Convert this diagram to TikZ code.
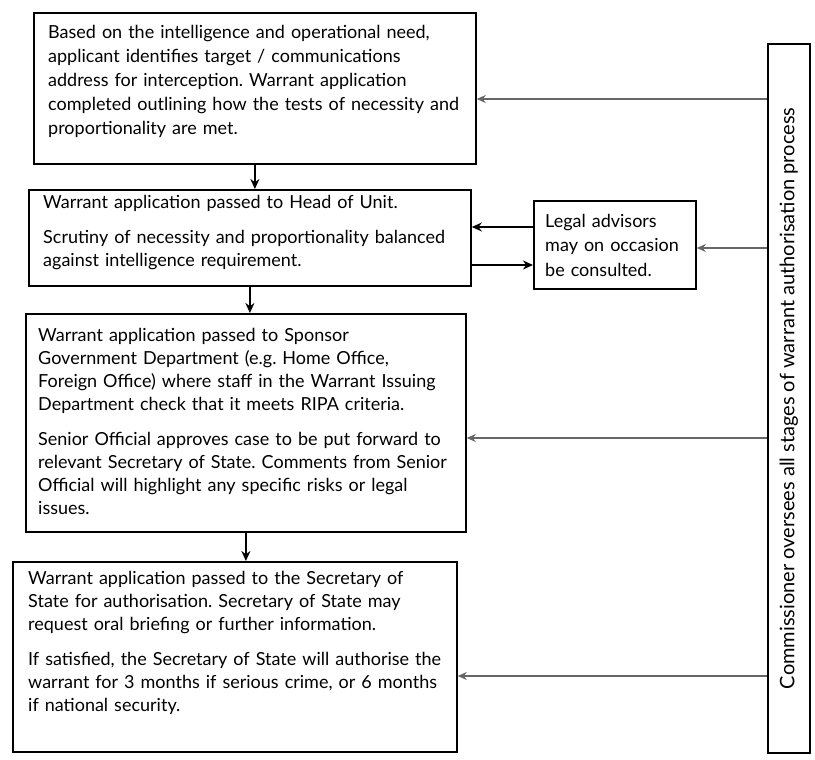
\documentclass[tikz,border=0pt]{standalone}
\usepackage{fontspec}
\setmainfont{Lato}
\usetikzlibrary{arrows.meta}
\frenchspacing
\begin{document}
\begin{tikzpicture}[x=1pt,y=-1pt,
  stage/.style={draw, line width=1.8pt, anchor=north west, inner sep=0pt},
  txt/.style={anchor=north west, inner sep=0pt, align=left, font=\fontsize{18}{23}\selectfont},
  flow/.style={-{Stealth[length=10pt,width=9pt]}, line width=1.8pt},
  watch/.style={-{Stealth[length=9pt,width=8pt]}, line width=1.8pt, draw=black!60}]
\useasboundingbox[fill=white] (0,0) rectangle (815,760);
% boxes
\node[stage, minimum width=442, minimum height=151] (b1) at (33,12) {};
\node[stage, minimum width=442, minimum height=96] (b2) at (28,189) {};
\node[stage, minimum width=440, minimum height=218] (b3) at (25,313) {};
\node[stage, minimum width=444, minimum height=190] (b4) at (12,561) {};
\node[stage, minimum width=162, minimum height=88] (legal) at (533,200) {};
\node[stage, minimum width=42, minimum height=709] (comm) at (767,43) {};
% texts
\node[txt, text width=425, font=\fontsize{18}{24}\selectfont] (t1) at ([xshift=15pt,yshift=-13pt]b1.north west)
 {Based on the intelligence and operational need,\\
  applicant identifies target / communications\\
  address for interception. Warrant application\\
  completed outlining how the tests of necessity and\\
  proportionality are met.};
\node[txt, text width=425] (t2) at ([xshift=15pt,yshift=-6pt]b2.north west)
 {Warrant application passed to Head of Unit.\\[12pt]
  Scrutiny of necessity and proportionality balanced\\
  against intelligence requirement.};
\node[txt, text width=425] (t3) at ([xshift=13pt,yshift=-15pt]b3.north west)
 {Warrant application passed to Sponsor\\
  Government Department (e.g. Home Office,\\
  Foreign Office) where staff in the Warrant Issuing\\
  Department check that it meets RIPA criteria.\\[12pt]
  Senior Official approves case to be put forward to\\
  relevant Secretary of State. Comments from Senior\\
  Official will highlight any specific risks or legal\\
  issues.};
\node[txt, text width=430] (t4) at ([xshift=16pt,yshift=-10pt]b4.north west)
 {Warrant application passed to the Secretary of\\
  State for authorisation. Secretary of State may\\
  request oral briefing or further information.\\[12pt]
  If satisfied, the Secretary of State will authorise the\\
  warrant for 3 months if serious crime, or 6 months\\
  if national security.};
\node[txt, text width=150, font=\fontsize{18}{24.5}\selectfont] (tl) at ([xshift=12pt,yshift=-14pt]legal.north west)
 {Legal advisors\\ may on occasion\\ be consulted.};
\node[rotate=90, inner sep=0pt, font=\fontsize{20}{22}\selectfont] (tc) at (comm.center)
 {Commissioner oversees all stages of warrant authorisation process};
% flow arrows
\draw[flow] (b1.south) -- (b1.south |- b2.north);
\draw[flow] (b2.south) -- (b2.south |- b3.north);
\draw[flow] (b3.south) -- (b3.south |- b4.north);
\coordinate (l1) at (legal.west |- 0,227);
\coordinate (l2) at (legal.west |- 0,265);
\draw[flow] (l1) -- (l1 -| b2.east);
\draw[flow] (l2 -| b2.east) -- (l2);
% commissioner arrows
\draw[watch] (comm.west |- 0,99) -- (b1.east |- 0,99);
\draw[watch] (comm.west |- 0,248) -- (legal.east |- 0,248);
\draw[watch] (comm.west |- 0,438) -- (b3.east |- 0,438);
\draw[watch] (comm.west |- 0,676) -- (b4.east |- 0,676);
\end{tikzpicture}
\end{document}
